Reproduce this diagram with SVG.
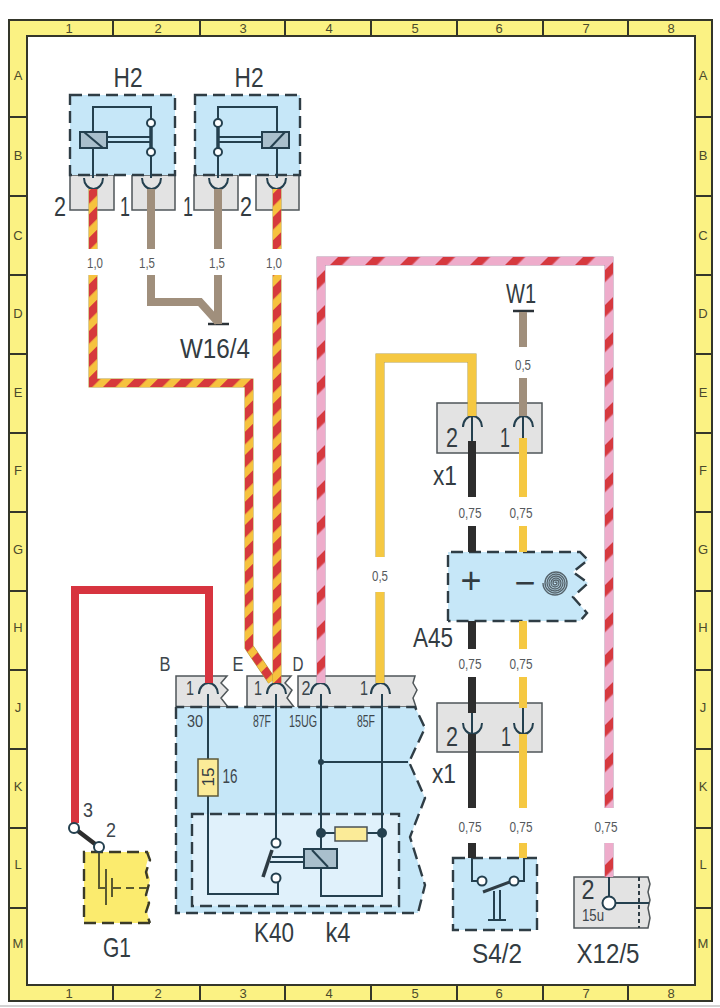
<svg xmlns="http://www.w3.org/2000/svg" width="720" height="1008" viewBox="0 0 720 1008">
<defs>
<pattern id="ry" patternUnits="userSpaceOnUse" width="16.500" height="10" patternTransform="rotate(45)"><rect width="16.500" height="10" fill="#f6c23e"/><rect width="9" height="10" fill="#d6393c"/></pattern>
<pattern id="rp" patternUnits="userSpaceOnUse" width="24.750" height="10" patternTransform="rotate(45)"><rect width="24.750" height="10" fill="#eeaccb"/><rect width="8.500" height="10" fill="#d6393f"/></pattern>
<style>
text{font-family:"Liberation Sans",Arial,sans-serif;fill:#333c42;text-anchor:middle}
.t{font-size:28px}
.m{font-size:20px;fill:#3d464c}
.g{font-size:15px;fill:#55595c}
.k{font-size:16px;fill:#3d464c}
.gr{font-size:13px;fill:#4a4a2c}
.b{fill:#c6e7f8;stroke:none}
.d{fill:none;stroke:#2f3d45;stroke-width:2.400;stroke-dasharray:12 6}
.n{fill:none;stroke:#24404f;stroke-width:2}
.c{fill:#e3e3e3;stroke:#4f5659;stroke-width:1.500}
.ya{fill:none;stroke:#f5c842;stroke-width:8}
.yb{fill:none;stroke:#b39a3c;stroke-width:9}
.br{fill:none;stroke:#a08f7c;stroke-width:8}
.bk{fill:none;stroke:#2d2d2d;stroke-width:8}
.rd{fill:none;stroke:#d7343f;stroke-width:8}
.sy{fill:none;stroke:url(#ry);stroke-width:8}
.sp{fill:none;stroke:url(#rp);stroke-width:8}
.pb{fill:none;stroke:#b48aa8;stroke-width:9}
.coil{fill:#a9bfcc;stroke:#24404f;stroke-width:2}
.o{fill:#fff;stroke:#24404f;stroke-width:2}
.fr{fill:none;stroke:#34362a;stroke-width:2}
</style>
</defs>
<rect width="720" height="1008" fill="#fff"/>
<path d="M0 1006H720" stroke="#c4c4c4" stroke-width="1.500"/>
<g id="frame">
<path d="M9 20H712V1001H9Z M27 36V985H695V36Z" fill="#fbf283" fill-rule="evenodd" stroke="#34362a" stroke-width="2"/>
<path class="fr" d="M113 20V36M200 20V36M285 20V36M371 20V36M457 20V36M543 20V36M628 20V36M113 985V1001M200 985V1001M285 985V1001M371 985V1001M457 985V1001M543 985V1001M628 985V1001M9 117H27M9 196H27M9 275H27M9 354H27M9 433H27M9 512H27M9 591H27M9 670H27M9 749H27M9 828H27M9 908H27M695 117H712M695 196H712M695 275H712M695 354H712M695 433H712M695 512H712M695 591H712M695 670H712M695 749H712M695 828H712M695 908H712"/>
<text class="gr" x="69" y="33">1</text><text class="gr" x="158" y="33">2</text><text class="gr" x="243" y="33">3</text><text class="gr" x="329" y="33">4</text><text class="gr" x="415" y="33">5</text><text class="gr" x="499" y="33">6</text><text class="gr" x="586" y="33">7</text><text class="gr" x="671" y="33">8</text>
<text class="gr" x="69" y="998">1</text><text class="gr" x="158" y="998">2</text><text class="gr" x="243" y="998">3</text><text class="gr" x="329" y="998">4</text><text class="gr" x="415" y="998">5</text><text class="gr" x="499" y="998">6</text><text class="gr" x="586" y="998">7</text><text class="gr" x="671" y="998">8</text>
<text class="gr" x="18" y="80">A</text><text class="gr" x="18" y="160">B</text><text class="gr" x="18" y="240">C</text><text class="gr" x="18" y="318">D</text><text class="gr" x="18" y="397">E</text><text class="gr" x="18" y="475">F</text><text class="gr" x="18" y="554">G</text><text class="gr" x="18" y="632">H</text><text class="gr" x="18" y="712">J</text><text class="gr" x="18" y="791">K</text><text class="gr" x="18" y="869">L</text><text class="gr" x="18" y="948">M</text>
<text class="gr" x="703" y="80">A</text><text class="gr" x="703" y="160">B</text><text class="gr" x="703" y="240">C</text><text class="gr" x="703" y="318">D</text><text class="gr" x="703" y="397">E</text><text class="gr" x="703" y="475">F</text><text class="gr" x="703" y="554">G</text><text class="gr" x="703" y="632">H</text><text class="gr" x="703" y="712">J</text><text class="gr" x="703" y="791">K</text><text class="gr" x="703" y="869">L</text><text class="gr" x="703" y="948">M</text>
</g>
<g id="H2-left">
<rect class="c" x="70" y="175" width="44" height="35"/><rect class="c" x="132" y="175" width="43" height="35"/>
<rect class="b" x="70" y="95" width="105" height="80"/><rect class="d" x="70" y="95" width="105" height="80"/>
<path class="n" d="M93 178V107H151V178M107 137H151M107 142H151"/><path d="M151 123V152" stroke="#24404f" stroke-width="3.500"/>
<rect class="coil" x="80" y="132" width="27" height="16"/><path class="n" d="M84 132L103 148"/>
<circle class="o" cx="151" cy="123" r="4"/><circle class="o" cx="151" cy="152" r="4"/>
<path class="n" d="M84 178A9.500 11 0 0 0 103 178M142 178A9.500 11 0 0 0 161 178"/>
<text class="t" x="128" y="87" textLength="29" lengthAdjust="spacingAndGlyphs">H2</text><text class="t" x="60" y="216" textLength="12" lengthAdjust="spacingAndGlyphs">2</text><text class="t" x="125" y="216" textLength="10" lengthAdjust="spacingAndGlyphs">1</text>
</g>
<g id="H2-right">
<rect class="c" x="194" y="175" width="44" height="35"/><rect class="c" x="256" y="175" width="43" height="35"/>
<rect class="b" x="195" y="95" width="105" height="80"/><rect class="d" x="195" y="95" width="105" height="80"/>
<path class="n" d="M218 178V107H277V178M218 137H262M218 142H262"/><path d="M218 123V152" stroke="#24404f" stroke-width="3.500"/>
<rect class="coil" x="262" y="132" width="27" height="16"/><path class="n" d="M270 148L285 132"/>
<circle class="o" cx="218" cy="123" r="4"/><circle class="o" cx="218" cy="152" r="4"/>
<path class="n" d="M209 178A9.500 11 0 0 0 228 178M267 178A9.500 11 0 0 0 286 178"/>
<text class="t" x="249" y="87" textLength="29" lengthAdjust="spacingAndGlyphs">H2</text><text class="t" x="188" y="216" textLength="10" lengthAdjust="spacingAndGlyphs">1</text><text class="t" x="246" y="216" textLength="12" lengthAdjust="spacingAndGlyphs">2</text>
</g>
<g id="W16-4"><path d="M208 324H229" stroke="#2c3338" stroke-width="2.500"/><text class="t" x="215" y="358" textLength="70" lengthAdjust="spacingAndGlyphs">W16/4</text></g>
<g id="W1"><path d="M513 311H534" stroke="#2c3338" stroke-width="2.500"/><text class="t" x="521" y="303" textLength="30" lengthAdjust="spacingAndGlyphs">W1</text></g>
<g id="x1-top"><rect class="c" x="437" y="403" width="105" height="50"/><path class="n" d="M463 427A9.500 11 0 0 1 482 427M514 427A9.500 11 0 0 1 533 427M472 416V441M523 416V441"/><text class="t" x="452" y="447" textLength="12" lengthAdjust="spacingAndGlyphs">2</text><text class="t" x="505" y="447" textLength="10" lengthAdjust="spacingAndGlyphs">1</text><text class="t" x="445" y="485" textLength="24" lengthAdjust="spacingAndGlyphs">x1</text></g>
<g id="x1-bottom"><rect class="c" x="437" y="703" width="105" height="49"/><path class="n" d="M463 723A9.500 11 0 0 0 482 723M514 723A9.500 11 0 0 0 533 723M472 708V734M523 708V734"/><text class="t" x="452" y="746" textLength="12" lengthAdjust="spacingAndGlyphs">2</text><text class="t" x="506" y="746" textLength="10" lengthAdjust="spacingAndGlyphs">1</text><text class="t" x="444" y="783" textLength="24" lengthAdjust="spacingAndGlyphs">x1</text></g>
<g id="A45"><path class="b" d="M448 552H580L588 560L573 572L588 583L573 597L587 613L580 621H448Z"/><path class="d" d="M448 621V552H580L588 560L573 572L588 583L573 597L587 613L580 621H448"/>
<text x="471" y="593" font-size="36" fill="#333">+</text><text x="525" y="595" font-size="36" fill="#333">−</text>
<path fill="none" stroke="#56646c" stroke-width="1.400" d="M555 583A1 1 0 0 1 557 583A2 2 0 0 1 553 583A3 3 0 0 1 559 583A4 4 0 0 1 551 583A5 5 0 0 1 561 583A6 6 0 0 1 549 583A7 7 0 0 1 563 583A8 8 0 0 1 547 583A9 9 0 0 1 565 583A10 10 0 0 1 545 583A11 11 0 0 1 567 583A12 12 0 0 1 543 583"/>
<text class="t" x="433" y="647" textLength="40" lengthAdjust="spacingAndGlyphs">A45</text></g>
<g id="K40">
<path class="c" d="M176 707V676H227L221 683L228 690L221 698L228 707ZM247 707V676H291L285 683L292 690L287 698L294 707ZM298 707V676H415L413 683L417 690L413 698L416 707Z"/>
<path class="b" d="M176 707H415L425 728L409 762L425 798L410 837L425 885L418 913H176Z"/>
<path class="d" d="M176 707V913H418L425 885L410 837L425 798L409 762L425 728L415 707H176"/>
<path d="M192 814H399V906H192Z" fill="#e0f1fb" stroke="#2f3d45" stroke-width="2.400" stroke-dasharray="12 6"/>
<path class="n" d="M208 694V759M208 796V894H278V882M276 694V843M321 694V896H382V694M321 762H408M321 833H335M367 833H382"/>
<rect x="198" y="759" width="20" height="37" fill="#fbeb98" stroke="#5d5a3a" stroke-width="1.500"/><text x="208" y="783" font-size="17" transform="rotate(-90 208 777)">15</text><text class="m" x="230" y="783" textLength="15" lengthAdjust="spacingAndGlyphs">16</text>
<rect x="335" y="827" width="32" height="14" fill="#fbeb98" stroke="#4a5257" stroke-width="1.500"/>
<circle cx="321" cy="833" r="5" fill="#24404f"/><circle cx="382" cy="833" r="5" fill="#24404f"/><circle cx="321" cy="762" r="3" fill="#24404f"/>
<path d="M272 850L263 877" stroke="#2d3a42" stroke-width="3.500"/><path class="n" d="M272 857H304M270 862H304"/><rect class="coil" x="304" y="849" width="33" height="19"/><path class="n" d="M312 850L328 867"/>
<circle class="o" cx="276" cy="843" r="4.500"/><circle class="o" cx="276" cy="878" r="4.500"/>
<path class="n" d="M199 694A9.500 11 0 0 1 218 694M267 694A9.500 11 0 0 1 286 694M311 694A9.500 11 0 0 1 330 694M371 694A9.500 11 0 0 1 390 694"/>
<text class="m" x="165" y="671" textLength="11" lengthAdjust="spacingAndGlyphs">B</text><text class="m" x="238" y="671" textLength="11" lengthAdjust="spacingAndGlyphs">E</text><text class="m" x="298" y="671" textLength="11" lengthAdjust="spacingAndGlyphs">D</text>
<text class="m" x="190" y="695" textLength="8" lengthAdjust="spacingAndGlyphs">1</text><text class="m" x="258" y="695" textLength="8" lengthAdjust="spacingAndGlyphs">1</text><text class="m" x="306" y="695" textLength="9" lengthAdjust="spacingAndGlyphs">2</text><text class="m" x="364" y="695" textLength="8" lengthAdjust="spacingAndGlyphs">1</text>
<text class="k" x="195" y="727" textLength="16" lengthAdjust="spacingAndGlyphs">30</text><text class="k" x="262" y="727" textLength="18" lengthAdjust="spacingAndGlyphs">87F</text><text class="k" x="303" y="727" textLength="28" lengthAdjust="spacingAndGlyphs">15UG</text><text class="k" x="366" y="727" textLength="18" lengthAdjust="spacingAndGlyphs">85F</text>
<text class="t" x="274" y="942" textLength="40" lengthAdjust="spacingAndGlyphs">K40</text><text class="t" x="338" y="942" textLength="25" lengthAdjust="spacingAndGlyphs">k4</text></g>
<g id="G1"><path d="M84 852H150L146 866L150 880L146 893L150 905L147 912L150 923H84Z" fill="#fbeb6e"/><path fill="none" stroke="#3a3a28" stroke-width="2.400" stroke-dasharray="12 6" d="M150 923H84V852H147L150 860L146 872L149 884L146 895L149 903L146 912L150 923"/>
<path fill="none" stroke="#5a5a30" stroke-width="2" d="M99 850V888H105M106 869V905M112 878V897"/><path fill="none" stroke="#5a5a30" stroke-width="2" stroke-dasharray="8 5" d="M113 888H150"/>
<text class="t" x="117" y="957" textLength="28" lengthAdjust="spacingAndGlyphs">G1</text></g>
<g id="S4-2"><rect class="b" x="453" y="858" width="84" height="72"/><rect class="d" x="453" y="858" width="84" height="72"/>
<path class="n" d="M472 858V881H478M524 858V881H519M494 891V920M500 890V920M488 920H506"/><path d="M483 892L515 880" stroke="#2f3d45" stroke-width="3"/><circle class="o" cx="482" cy="881" r="4.500"/><circle class="o" cx="514" cy="881" r="4.500"/><text class="t" x="497" y="963" textLength="50" lengthAdjust="spacingAndGlyphs">S4/2</text></g>
<g id="X12-5"><path class="c" d="M574 877H648L650 884L648 892L650 900L648 908L650 918L648 928H574Z"/><path d="M639 877V928" stroke="#2f3d45" stroke-width="2" stroke-dasharray="4 3"/><path class="n" d="M609 877V897M615 903H649"/><circle class="o" cx="609" cy="903" r="6.500"/><text class="t" x="588" y="899" textLength="13" lengthAdjust="spacingAndGlyphs">2</text><text class="k" x="593" y="921" font-size="17" textLength="22" lengthAdjust="spacingAndGlyphs">15u</text><text class="t" x="608" y="963" textLength="63" lengthAdjust="spacingAndGlyphs">X12/5</text></g>
<g id="connectors">
<path class="yb" d="M93 189V249M93 275V383H249V647L272 681"/>
<path class="sy" d="M93 189V249M93 275V383H249V647L272 681"/>
<path class="yb" d="M277 189V249M277 275V683"/><path class="sy" d="M277 189V249M277 275V683"/>
<path class="br" d="M151 189V249M218 189V249M151 275V302H200L218 322M218 275V324"/>
<path class="rd" d="M209 683V590H75V823"/>
<path class="pb" d="M321 683V261H609V808M609 843V877"/><path class="sp" d="M321 683V261H609V808M609 843V877"/>
<path class="yb" d="M380 683V592M380 557V358H472V416"/><path class="ya" d="M380 683V592M380 557V358H472V416"/>
<path class="br" d="M523 312V347M523 378V416"/>
<path class="ya" d="M523 438V497M523 526V552M523 621V649M523 677V708M523 734V808M523 843V858"/>
<path class="bk" d="M472 441V497M472 526V552M472 621V649M472 677V713M472 734V808M472 843V858"/>
</g>
<g id="switch-3-2"><path d="M74 828L99 847" stroke="#2d2d2d" stroke-width="4.500"/><circle class="o" cx="74" cy="828" r="5"/><circle class="o" cx="99" cy="847" r="5"/><text class="m" x="88" y="817" textLength="10" lengthAdjust="spacingAndGlyphs">3</text><text class="m" x="111" y="837" textLength="10" lengthAdjust="spacingAndGlyphs">2</text></g>
<g id="wire-sizes">
<text class="g" x="95" y="268" textLength="16" lengthAdjust="spacingAndGlyphs">1,0</text><text class="g" x="147" y="268" textLength="16" lengthAdjust="spacingAndGlyphs">1,5</text><text class="g" x="217" y="268" textLength="16" lengthAdjust="spacingAndGlyphs">1,5</text><text class="g" x="274" y="268" textLength="16" lengthAdjust="spacingAndGlyphs">1,0</text><text class="g" x="380" y="581" textLength="16" lengthAdjust="spacingAndGlyphs">0,5</text><text class="g" x="523" y="370" textLength="16" lengthAdjust="spacingAndGlyphs">0,5</text><text class="g" x="470" y="518" textLength="23" lengthAdjust="spacingAndGlyphs">0,75</text><text class="g" x="521" y="518" textLength="23" lengthAdjust="spacingAndGlyphs">0,75</text><text class="g" x="470" y="669" textLength="23" lengthAdjust="spacingAndGlyphs">0,75</text><text class="g" x="521" y="669" textLength="23" lengthAdjust="spacingAndGlyphs">0,75</text><text class="g" x="470" y="832" textLength="23" lengthAdjust="spacingAndGlyphs">0,75</text><text class="g" x="521" y="832" textLength="23" lengthAdjust="spacingAndGlyphs">0,75</text><text class="g" x="606" y="832" textLength="23" lengthAdjust="spacingAndGlyphs">0,75</text>
</g>
</svg>
